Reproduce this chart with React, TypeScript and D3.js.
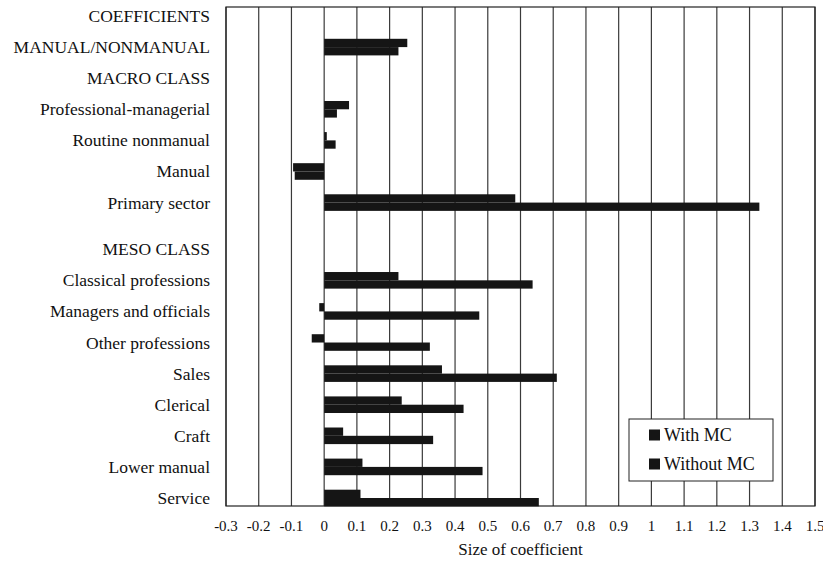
import React from "react";
import * as d3 from "d3";

const categories = [
  "COEFFICIENTS",
  "MANUAL/NONMANUAL",
  "MACRO CLASS",
  "Professional-managerial",
  "Routine nonmanual",
  "Manual",
  "Primary sector",
  "MESO CLASS",
  "Classical professions",
  "Managers and officials",
  "Other professions",
  "Sales",
  "Clerical",
  "Craft",
  "Lower manual",
  "Service",
];
const withMC: (number | null)[] = [null, 0.254, null, 0.076, 0.008, -0.095, 0.584, null, 0.227, -0.015, -0.038, 0.36, 0.237, 0.058, 0.117, 0.111];
const withoutMC: (number | null)[] = [null, 0.227, null, 0.039, 0.035, -0.09, 1.33, null, 0.637, 0.474, 0.323, 0.711, 0.426, 0.333, 0.484, 0.656];
const tickValues = d3.range(-3, 16).map((d) => d / 10);
const tickLabels = tickValues.map((v) => (Math.abs(v) < 1e-9 ? "0" : String(+v.toFixed(1))));
const seriesNames = ["With MC", "Without MC"];

const W = 823;
const H = 568;
const plot = { left: 226, right: 815, top: 7, bottom: 506 };
const FONT = "Liberation Serif";

export default function App() {
  const x = d3.scaleLinear().domain([-0.3, 1.5]).range([plot.left, plot.right]);
  // slot index: extra half-row gap before MESO CLASS
  const slot = (i: number) => (i >= 7 ? i + 0.5 : i);
  const y = d3.scaleLinear().domain([0, 15.5]).range([16, 498]);
  const bh = 8.3;
  const barColor = "#151515";
  const ts = { fontFamily: FONT };

  return (
    <svg width={W} height={H} style={{ position: "absolute", left: 0, top: 0, background: "#fff" }}>
      <rect x={0} y={0} width={W} height={H} fill="#fff" />
      {/* grid lines */}
      {tickValues.map((v, i) => (
        <line key={"g" + i} x1={x(v)} x2={x(v)} y1={plot.top} y2={plot.bottom} stroke="#3a3a3a" strokeWidth={1.2} />
      ))}
      <rect x={plot.left} y={plot.top} width={plot.right - plot.left} height={plot.bottom - plot.top} fill="none" stroke="#222" strokeWidth={1.2} />
      {/* bars */}
      {categories.map((c, i) => {
        const cy = y(slot(i));
        const a = withMC[i];
        const b = withoutMC[i];
        return (
          <g key={"b" + i}>
            {a !== null && (
              <rect x={Math.min(x(0), x(a))} y={cy - bh} width={Math.abs(x(a) - x(0))} height={bh} fill={barColor} />
            )}
            {b !== null && (
              <rect x={Math.min(x(0), x(b))} y={cy} width={Math.abs(x(b) - x(0))} height={bh} fill={barColor} />
            )}
          </g>
        );
      })}
      {/* category labels */}
      {categories.map((c, i) => (
        <text key={"l" + i} style={ts} x={210} y={y(slot(i))} textAnchor="end" dominantBaseline="central" fontSize={17.5} fill="#111">
          {c}
        </text>
      ))}
      {/* tick labels */}
      {tickValues.map((v, i) => (
        <text key={"t" + i} style={ts} x={x(v)} y={526} textAnchor="middle" dominantBaseline="central" fontSize={15} fill="#111">
          {tickLabels[i]}
        </text>
      ))}
      <text style={ts} x={x(0.6)} y={549} textAnchor="middle" dominantBaseline="central" fontSize={17} fill="#111">
        Size of coefficient
      </text>
      {/* legend */}
      <rect x={629} y={419} width={144} height={62} fill="#fff" stroke="#222" strokeWidth={1} />
      {seriesNames.map((s, i) => (
        <g key={"lg" + i}>
          <rect x={649} y={435 + i * 29 - 5.5} width={11} height={11} fill={barColor} />
          <text style={ts} x={664} y={435 + i * 29} dominantBaseline="central" fontSize={18} fill="#111">
            {s}
          </text>
        </g>
      ))}
    </svg>
  );
}
